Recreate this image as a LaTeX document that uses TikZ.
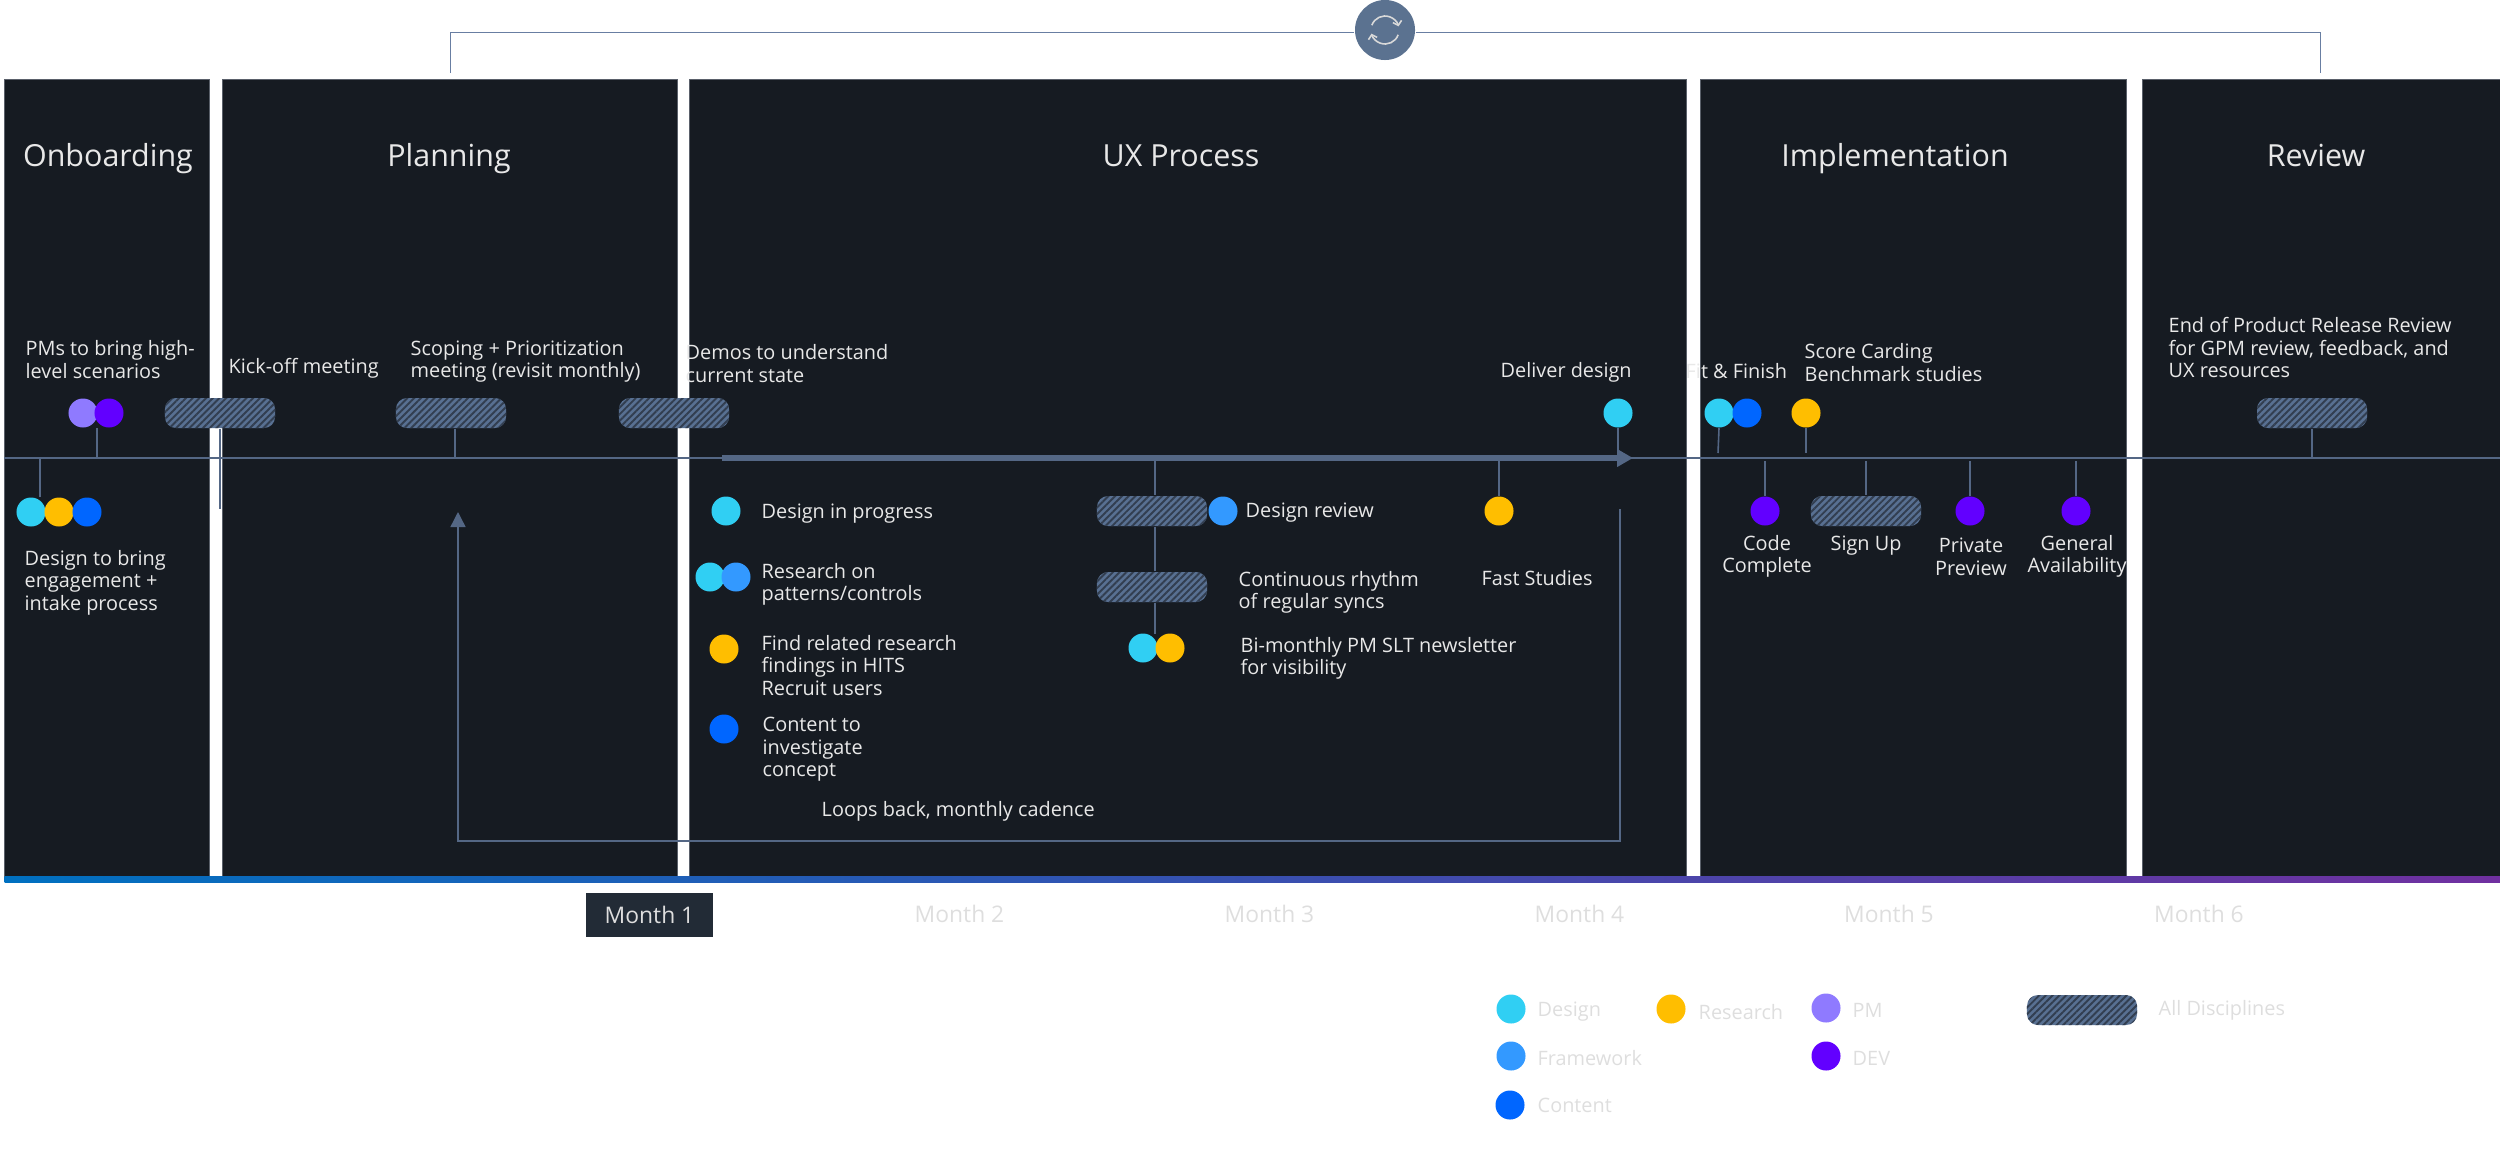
\documentclass[tikz,border=0pt]{standalone}
\usepackage{fontspec}
\setmainfont{Open Sans}
\usepackage{tikz}
\usetikzlibrary{positioning,arrows.meta,patterns.meta}
\definecolor{panelblack}{RGB}{22,27,34}
\definecolor{panelline}{RGB}{90,96,106}
\definecolor{lineblue}{RGB}{84,103,133}
\definecolor{linepale}{RGB}{104,126,162}
\definecolor{cyclefill}{RGB}{91,114,144}
\definecolor{pillfill}{RGB}{88,112,146}
\definecolor{pillstripe}{RGB}{50,62,80}
\definecolor{designcyan}{RGB}{48,207,243}
\definecolor{frameblue}{RGB}{51,153,255}
\definecolor{contentblue}{RGB}{0,102,255}
\definecolor{researchamber}{RGB}{255,190,0}
\definecolor{pmlilac}{RGB}{143,122,255}
\definecolor{devviolet}{RGB}{98,0,255}
\definecolor{barstart}{RGB}{0,112,192}
\definecolor{barend}{RGB}{112,48,160}
\definecolor{txtlight}{RGB}{232,232,232}
\definecolor{txtfaint}{RGB}{222,222,222}
\definecolor{monthfill}{RGB}{34,43,54}

\begin{document}
\begin{tikzpicture}[
  x=0.01cm, y=-0.01cm,
  panel/.style={rectangle, draw=panelline, line width=0.2pt, fill=panelblack,
                anchor=north west, inner sep=0pt, minimum height=7.97cm},
  head/.style={font=\fontsize{8.65}{10}\selectfont, text=txtlight, inner sep=0pt, anchor=base},
  lbl/.style={font=\fontsize{5.65}{6.43}\selectfont, align=left, anchor=west,
              text=txtlight, inner sep=0pt, yshift=-0.025cm},
  lblc/.style={lbl, align=center, anchor=center},
  faint/.style={lbl, text=txtfaint},
  mon/.style={font=\fontsize{6.5}{7.5}\selectfont, text=txtfaint, inner sep=0pt},
  dot/.style={circle, inner sep=0pt, minimum size=0.29cm},
  dotD/.style={dot, fill=designcyan},
  dotF/.style={dot, fill=frameblue},
  dotC/.style={dot, fill=contentblue},
  dotR/.style={dot, fill=researchamber},
  dotP/.style={dot, fill=pmlilac},
  dotV/.style={dot, fill=devviolet},
  pill/.style={rectangle, rounded corners=0.11cm, minimum width=1.1cm, minimum height=0.3cm,
               inner sep=0pt, fill=pillfill,
               postaction={pattern={Lines[angle=45,distance=1.35pt,line width=0.55pt]},
                           pattern color=pillstripe}},
  stem/.style={lineblue, line width=0.45pt},
  tline/.style={lineblue, line width=0.6pt},
  bigarr/.style={-{Triangle[width=0.17cm,length=0.16cm]}, lineblue, line width=0.055cm},
  looparr/.style={-{Triangle[width=0.15cm,length=0.15cm]}, lineblue, line width=0.4pt},
  bracket/.style={linepale, line width=0.28pt},
  icon/.style={black!15, line width=0.45pt, -{Straight Barb[length=0.04cm,width=0.09cm]}}
]
\useasboundingbox (0,0) rectangle (2500,1148);

%% Phase panels
\node[panel, minimum width=2.05cm] (onb) at (4,79) {};
\node[panel, minimum width=4.55cm] (plan) at (222,79) {};
\node[panel, minimum width=9.96cm] (ux) at (689,79) {};
\node[panel, minimum width=4.26cm] (impl) at (1700,79) {};
\node[panel, minimum width=3.58cm] (rev) at (2142,79) {};
\node[anchor=north west, minimum width=24.96cm, minimum height=0.06cm, inner sep=0pt,
      left color=barstart, right color=barend] (bar) at (4,876) {};

\node[head] (honb) at (108,166) {Onboarding};
\node[head] (hplan) at (449,166) {Planning};
\node[head] (hux) at (1181,166) {UX Process};
\node[head] (himpl) at (1895,166) {Implementation};
\node[head] (hrev) at (2316,166) {Review};

%% Repeat bracket over the top
\node[circle, fill=cyclefill, minimum size=0.6cm, inner sep=0pt] (cyc) at (1385,30) {};
\coordinate (brL) at (450,73);
\coordinate (brLt) at (450,32);
\coordinate (brR) at (2320,73);
\coordinate (brRt) at (2320,32);
\draw[bracket] (brL) -- (brLt) -- (brLt -| cyc.west);
\draw[bracket] (brRt -| cyc.east) -- (brRt) -- (brR);
\draw[icon] ([shift={(160:0.14cm)}]cyc.center) arc[start angle=160, end angle=15, radius=0.14cm];
\draw[icon] ([shift={(-20:0.14cm)}]cyc.center) arc[start angle=-20, end angle=-165, radius=0.14cm];

%% Time line
\coordinate (tlL) at (4,458);
\coordinate (tlR) at (2500,458);
\coordinate (bigL) at (722,458);
\coordinate (bigR) at (1633,458);
\draw[tline] (tlL) -- (tlR);
\draw[bigarr] (bigL) -- (bigR);

%% Pills
\node[pill] (pKick) at (220,413) {};
\node[pill] (pScope) at (451,413) {};
\node[pill] (pDemo) at (674,413) {};
\node[pill] (pRevw) at (1152,511) {};
\node[pill] (pSync) at (1152,587) {};
\node[pill] (pSign) at (1866,511) {};
\node[pill] (pEnd) at (2312,413) {};

%% Dots above and below the line
\node[dotP] (dPm) at (83,413) {};
\node[dotV] (dDev) at (109,413) {};
\node[dotD] (dOa) at (31,512) {};
\node[dotR] (dOb) at (59,512) {};
\node[dotC] (dOc) at (87,512) {};

\node[dotD] (dProg) at (726,511) {};
\node[dotD] (dResa) at (710,577) {};
\node[dotF] (dResb) at (736,577) {};
\node[dotR] (dFind) at (724,649) {};
\node[dotC] (dCont) at (724,729) {};

\node[dotF] (dRevw) at (1223,511) {};
\node[dotD] (dNewa) at (1143,648) {};
\node[dotR] (dNewb) at (1170,648) {};
\node[dotR] (dFast) at (1499,511) {};
\node[dotD] (dDeliv) at (1618,413) {};

\node[dotD] (dFita) at (1719,413) {};
\node[dotC] (dFitb) at (1747,413) {};
\node[dotR] (dScore) at (1806,413) {};
\node[dotV] (dCode) at (1765,511) {};
\node[dotV] (dPriv) at (1970,511) {};
\node[dotV] (dGa) at (2076,511) {};

%% Stems
\coordinate (sPm) at (97,428);
\coordinate (sOa) at (40,497);
\coordinate (sKick) at (220,509);
\coordinate (sScope) at (455,458);
\coordinate (sNew) at (1155,634);
\coordinate (sFit) at (1718,453);
\coordinate (sScore) at (1806,453);
\coordinate (sCode) at (1765,461);
\coordinate (sSign) at (1866,461);
\coordinate (sPriv) at (1970,461);
\coordinate (sGa) at (2076,461);
\draw[stem] (sPm) -- (sPm |- tlL);
\draw[stem] (sOa) -- (sOa |- tlL);
\draw[stem] (pKick.south) -- (sKick);
\draw[stem] (sScope |- pScope.south) -- (sScope);
\draw[stem] (sNew |- tlL) -- (sNew |- pRevw.north);
\draw[stem] (sNew |- pRevw.south) -- (sNew |- pSync.north);
\draw[stem] (sNew |- pSync.south) -- (sNew);
\draw[stem] (dFast.north) -- (dFast.north |- tlL);
\draw[stem] (dDeliv.south) -- (dDeliv.south |- tlL);
\draw[stem] (dFita.south) -- (sFit);
\draw[stem] (dScore.south) -- (sScore);
\draw[stem] (sCode) -- (dCode.north);
\draw[stem] (sSign) -- (pSign.north);
\draw[stem] (sPriv) -- (dPriv.north);
\draw[stem] (sGa) -- (dGa.north);
\draw[stem] (pEnd.south) -- (pEnd.south |- tlL);

%% Loop back
\coordinate (loopA) at (1620,509);
\coordinate (loopB) at (1620,841);
\coordinate (loopC) at (458,841);
\coordinate (loopD) at (458,512);
\draw[looparr] (loopA) -- (loopB) -- (loopC) -- (loopD);

%% Labels
\node[lbl] (tPm) at (25,357) {PMs to bring high-\\level scenarios};
\node[lbl] (tKick) at (228,366) {Kick-off meeting};
\node[lbl] (tScope) at (410,359) {Scoping + Prioritization\\meeting (revisit monthly)};
\node[lbl] (tDemo) at (685,361) {Demos to understand\\current state};
\node[lbl] (tOnb) at (24,580) {Design to bring\\engagement +\\intake process};
\node[lbl] (tDeliv) at (1500,370) {Deliver design};
\node[lbl] (tFit) at (1685,369) {Fit \& Finish};
\node[lbl] (tScore) at (1804,360) {Score Carding\\Benchmark studies};
\node[lbl] (tEnd) at (2168,345) {End of Product Release Review\\for GPM review, feedback, and\\UX resources};

\node[lbl] (tProg) at (761,511) {Design in progress};
\node[lbl] (tRes) at (761,582) {Research on\\patterns/controls};
\node[lbl] (tFind) at (761,663) {Find related research\\findings in HITS\\Recruit users};
\node[lbl] (tCont) at (762,747) {Content to\\investigate\\concept};
\node[lbl] (tLoop) at (821,809) {Loops back, monthly cadence};
\node[lbl] (tRevw) at (1245,510) {Design review};
\node[lbl] (tSync) at (1238,590) {Continuous rhythm\\of regular syncs};
\node[lbl] (tFast) at (1481,576) {Fast Studies};
\node[lbl] (tNews) at (1240,656) {Bi-monthly PM SLT newsletter\\for visibility};

\node[lblc] (tCode) at (1767,554) {Code\\Complete};
\node[lblc] (tSign) at (1866,543) {Sign Up};
\node[lblc] (tPriv) at (1971,554) {Private\\Preview};
\node[lblc] (tGa) at (2077,554) {General\\Availability};

%% Months
\node[fill=monthfill, minimum width=1.27cm, minimum height=0.44cm, inner sep=0pt,
      font=\fontsize{6.5}{7.5}\selectfont, text=txtfaint] (m1) at (649.5,915) {Month 1};
\node[mon] (m2) at (959.5,914) {Month 2};
\node[mon] (m3) at (1269.5,914) {Month 3};
\node[mon] (m4) at (1579.5,914) {Month 4};
\node[mon] (m5) at (1889,914) {Month 5};
\node[mon] (m6) at (2199,914) {Month 6};

%% Legend
\node[dotD] (lgD) at (1511,1009) {};
\node[dotR] (lgR) at (1671,1009) {};
\node[dotP] (lgP) at (1826,1008) {};
\node[dotF] (lgF) at (1511,1056) {};
\node[dotV] (lgV) at (1826,1056) {};
\node[dotC] (lgC) at (1510,1105) {};
\node[pill] (lgA) at (2082,1010) {};
\node[faint] (ltD) at (1537,1009) {Design};
\node[faint] (ltR) at (1698,1010) {Research};
\node[faint] (ltP) at (1852,1008) {PM};
\node[faint] (ltF) at (1537,1056) {Framework};
\node[faint] (ltV) at (1852,1056) {DEV};
\node[faint] (ltC) at (1537,1103) {Content};
\node[faint] (ltA) at (2158,1008) {All Disciplines};

\end{tikzpicture}
\end{document}
